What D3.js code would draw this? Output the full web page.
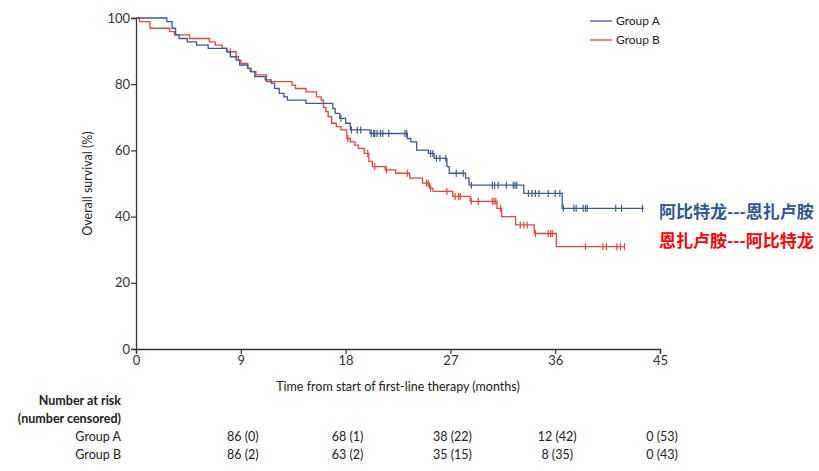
<!DOCTYPE html>
<html><head><meta charset="utf-8">
<script src="https://cdn.jsdelivr.net/npm/d3@7"></script>
<style>
body{margin:0;background:#fff;}
svg{display:block;font-family:Lato,"Open Sans",sans-serif;}
</style></head>
<body>
<script>
// ---- data ----
const xTicks = [0, 9, 18, 27, 36, 45];
const yTicks = [0, 20, 40, 60, 80, 100];

const groupATimes = [0, 2.65, 3.1, 3.4, 3.7, 4.4, 5.2, 6.2, 7.8, 8.1, 8.6, 8.9, 9.6, 9.8, 10.2, 11.1, 11.6, 11.9, 12.3, 12.7, 13.0, 14.6, 16.9, 17.1, 17.5, 18.0, 18.4, 20.1, 23.3, 23.6, 24.1, 25.1, 25.6, 26.7, 26.9, 28.3, 28.6, 33.3, 36.6, 43.6];
const groupASurv  = [100, 98.9, 96.9, 94.9, 93.8, 92.8, 91.8, 90.8, 89.8, 88.3, 87.3, 85.8, 84.8, 83.8, 82.3, 81.3, 80.3, 78.7, 77.2, 76.2, 75.2, 74.2, 72.7, 71.2, 69.7, 68.2, 66.2, 65.1, 63.6, 62.6, 60.1, 59.1, 57.6, 55.1, 53.1, 51.6, 49.5, 47.0, 42.5, 42.5];
const groupACensor = [17.6, 18.5, 19.0, 19.3, 20.2, 20.4, 20.5, 20.7, 21.0, 21.2, 21.7, 23.1, 23.25, 25.3, 25.5, 25.8, 26.1, 26.6, 27.5, 28.1, 28.8, 30.6, 30.8, 31.1, 31.8, 32.4, 32.55, 32.7, 33.7, 34.0, 34.3, 34.6, 35.4, 36.0, 36.4, 36.7, 37.6, 37.8, 38.4, 38.6, 38.75, 41.2, 41.7, 43.5];

const groupBTimes = [0, 0.3, 1.2, 2.9, 3.3, 4.6, 6.3, 6.8, 7.4, 7.8, 8.6, 8.8, 9.0, 9.6, 9.9, 10.3, 11.2, 13.4, 13.7, 14.6, 15.5, 15.9, 16.1, 16.3, 16.5, 16.8, 17.2, 17.6, 18.1, 18.4, 18.8, 19.1, 19.6, 20.0, 20.3, 21.4, 22.3, 23.5, 24.6, 25.2, 25.5, 27.2, 28.7, 31.0, 31.4, 32.6, 34.2, 36.1, 42.0];
const groupBSurv  = [100, 98.9, 96.9, 95.9, 94.9, 93.8, 92.8, 91.8, 90.8, 89.8, 88.3, 87.3, 86.3, 84.8, 83.8, 82.8, 80.8, 79.7, 78.7, 77.7, 76.2, 75.2, 73.0, 71.7, 70.2, 68.2, 67.2, 66.2, 63.6, 62.6, 61.6, 60.6, 59.1, 56.7, 55.1, 54.1, 53.1, 51.6, 50.1, 48.6, 47.6, 46.1, 44.6, 42.5, 40.0, 37.5, 34.9, 30.9, 30.9];
const groupBCensor = [8.1, 18.2, 19.9, 20.5, 21.5, 23.3, 24.95, 25.1, 25.3, 26.7, 27.4, 27.7, 27.85, 28.8, 29.4, 30.6, 30.75, 30.9, 31.3, 33.0, 33.3, 33.6, 34.3, 35.4, 35.6, 35.75, 38.6, 40.1, 40.4, 41.3, 41.6, 41.95];

const riskTimes = [9, 18, 27, 36, 45];
const riskA = ["86 (0)", "68 (1)", "38 (22)", "12 (42)", "0 (53)"];
const riskB = ["86 (2)", "63 (2)", "35 (15)", "8 (35)", "0 (43)"];

const seriesNames = ["Group A", "Group B"];
const seriesColors = ["#3b5b98", "#e8463c"];
const noteTexts = ["阿比特龙---恩扎卢胺", "恩扎卢胺---阿比特龙"];
const noteColors = ["#2f5597", "#ff0000"];

// ---- chart ----
const W = 819, H = 471;
const m = {left: 136, top: 18, right: 159, bottom: 122};
const svg = d3.select("body").append("svg").attr("width", W).attr("height", H);

const x = d3.scaleLinear().domain([0, 45]).range([m.left, W - m.right]);
const y = d3.scaleLinear().domain([0, 100]).range([H - m.bottom, m.top]);

const axisColor = "#333";
const gx = svg.append("g").attr("transform", `translate(0,${y(0)})`)
  .call(d3.axisBottom(x).tickValues(xTicks).tickSize(5).tickPadding(2));
const gy = svg.append("g").attr("transform", `translate(${x(0)},0)`)
  .call(d3.axisLeft(y).tickValues(yTicks).tickSize(5).tickPadding(1));
[gx, gy].forEach(g => {
  g.select(".domain").attr("stroke", axisColor).attr("stroke-width", 1.3);
  g.selectAll(".tick line").attr("stroke", axisColor).attr("stroke-width", 1.2);
  g.selectAll(".tick text").attr("fill", "#333").style("font-size", "13px").style("font-family", "Lato, sans-serif");
});

// axis titles
svg.append("text").attr("x", 398).attr("y", 391).attr("text-anchor", "middle")
  .style("font-size", "12.5px").attr("fill", "#222").text("Time from start of first-line therapy (months)");
svg.append("text").attr("transform", `translate(92,${y(50)}) rotate(-90)`).attr("text-anchor", "middle")
  .style("font-size", "12.5px").attr("fill", "#222").text("Overall survival (%)");

function stepAt(times, surv, t) {
  let v = surv[0];
  for (let i = 0; i < times.length; i++) { if (times[i] <= t) v = surv[i]; else break; }
  return v;
}

const line = d3.line().x(d => x(d[0])).y(d => y(d[1])).curve(d3.curveStepAfter);
const groups = [
  {times: groupATimes, surv: groupASurv, cens: groupACensor},
  {times: groupBTimes, surv: groupBSurv, cens: groupBCensor}
];
// draw B first then A on top
[1, 0].forEach(i => {
  const g = groups[i];
  const pts = g.times.map((t, k) => [t, g.surv[k]]);
  svg.append("path").attr("d", line(pts)).attr("fill", "none")
    .attr("stroke", seriesColors[i]).attr("stroke-width", 1.3);
  svg.append("g").selectAll("line").data(g.cens).join("line")
    .attr("x1", d => x(d)).attr("x2", d => x(d))
    .attr("y1", d => y(stepAt(g.times, g.surv, d)) - 3.5)
    .attr("y2", d => y(stepAt(g.times, g.surv, d)) + 3.5)
    .attr("stroke", seriesColors[i]).attr("stroke-width", 1.2);
});

// legend
seriesNames.forEach((n, i) => {
  const ly = 21 + i * 19;
  svg.append("line").attr("x1", 590).attr("x2", 612).attr("y1", ly).attr("y2", ly)
    .attr("stroke", seriesColors[i]).attr("stroke-width", 1.3);
  svg.append("text").attr("x", 616).attr("y", ly + 4).style("font-size", "12px").attr("fill", "#222").text(n);
});

// annotations
noteTexts.forEach((t, i) => {
  svg.append("text").attr("x", 659).attr("y", 218 + i * 29)
    .style("font-family", "'Noto Sans CJK SC', sans-serif").style("font-size", "17px").style("font-weight", "bold")
    .attr("fill", noteColors[i]).text(t);
});

// risk table
const lblX = 121;
svg.append("text").attr("x", lblX).attr("y", 405).attr("text-anchor", "end")
  .style("font-size", "12.5px").style("font-weight", "bold").attr("fill", "#222").text("Number at risk");
svg.append("text").attr("x", lblX).attr("y", 423).attr("text-anchor", "end")
  .style("font-size", "12.5px").style("font-weight", "bold").attr("fill", "#222").text("(number censored)");
[riskA, riskB].forEach((row, i) => {
  const ry = 441 + i * 18;
  svg.append("text").attr("x", lblX).attr("y", ry).attr("text-anchor", "end")
    .style("font-size", "12.5px").attr("fill", "#222").text(seriesNames[i]);
  row.forEach((v, k) => {
    svg.append("text").attr("x", x(riskTimes[k]) + 2).attr("y", ry).attr("text-anchor", "middle")
      .style("font-size", "12.5px").attr("fill", "#222").text(v);
  });
});
</script>
</body></html>
